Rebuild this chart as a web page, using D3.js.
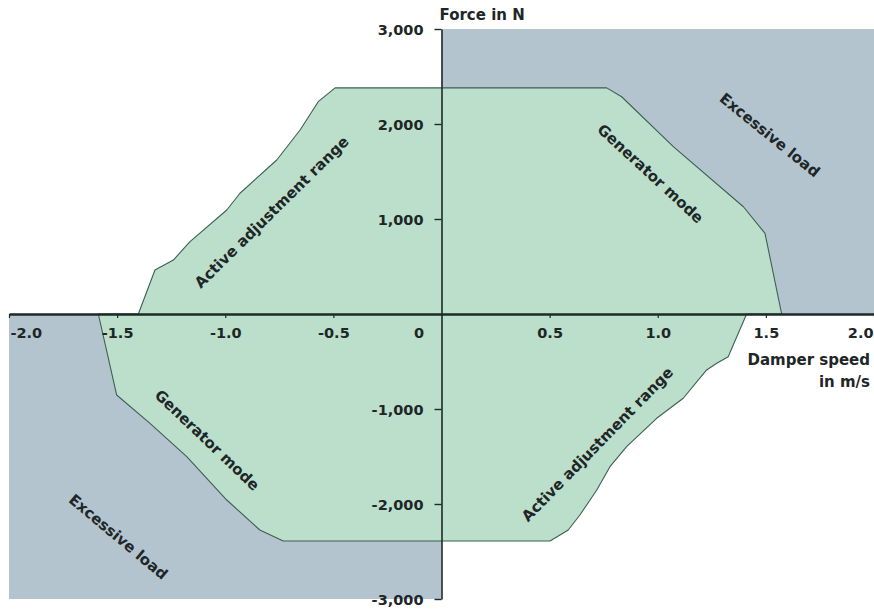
<!DOCTYPE html>
<html>
<head>
<meta charset="utf-8">
<script src="https://cdn.jsdelivr.net/npm/d3@7/dist/d3.min.js"></script>
<style>
  html, body { margin: 0; padding: 0; background: #ffffff; }
  svg { display: block; }
  text { font-family: "DejaVu Sans", sans-serif; font-weight: bold; }
</style>
</head>
<body>
<div id="chart"></div>
<script>
// ---- Data (speed in m/s, force in N) ----
const xTicks = [-2.0, -1.5, -1.0, -0.5, 0, 0.5, 1.0, 1.5, 2.0];
const yTicks = [-3000, -2000, -1000, 1000, 2000, 3000];

// Excessive-load quadrants: [speedMin, speedMax, forceMin, forceMax]
const excessiveUpper = [0, 2, 0, 3000];
const excessiveLower = [-2, 0, -3000, 0];

// Operating envelope, upper half (from left crossing, over the top, to right crossing)
const upperEdge = [
  [-1.402, 0], [-1.325, 463], [-1.240, 568], [-1.163, 761], [-0.993, 1095],
  [-0.932, 1271], [-0.762, 1621], [-0.654, 1937], [-0.570, 2235], [-0.492, 2380],
  [0.764, 2380], [0.833, 2287], [1.072, 1761], [1.396, 1129], [1.496, 849], [1.573, 0]
];
// Operating envelope, lower half (from right crossing, under the bottom, to left crossing)
const lowerEdge = [
  [1.411, 0], [1.349, -326], [1.326, -449], [1.273, -519], [1.226, -589],
  [1.118, -887], [0.995, -1098], [0.856, -1397], [0.779, -1607], [0.718, -1853],
  [0.640, -2116], [0.586, -2274], [0.502, -2390], [-0.732, -2390], [-0.840, -2274],
  [-0.993, -1958], [-1.178, -1502], [-1.348, -1151], [-1.502, -853], [-1.587, 0]
];

// Region labels: text, speed, force (centre), angle
const regionLabels = [
  { text: "Active adjustment range", s: -0.786, f: 1075, a: -44.5 },
  { text: "Generator mode", s: 0.967, f: 1480, a: 42.7 },
  { text: "Excessive load", s: 1.519, f: 1885, a: 39 },
  { text: "Generator mode", s: -1.083, f: -1326, a: 43.6 },
  { text: "Excessive load", s: -1.494, f: -2344, a: 40 },
  { text: "Active adjustment range", s: 0.720, f: -1369, a: -45.6 }
];

// ---- Layout ----
const W = 874, H = 610;
const svg = d3.select("#chart").append("svg").attr("width", W).attr("height", H);

const x = d3.scaleLinear().domain([-2, 2]).range([9, 874]);
const y = d3.scaleLinear().domain([-3000, 3000]).range([599, 29]);

const colBlue = "#b3c4ce";
const colGreen = "#bbdfca";
const colEdge = "#3d5f52";
const colAxis = "#1d2a27";
const colText = "#1e2628";

// excessive-load rectangles
[excessiveUpper, excessiveLower].forEach(r => {
  svg.append("rect")
    .attr("x", x(r[0])).attr("y", y(r[3]))
    .attr("width", x(r[1]) - x(r[0]))
    .attr("height", y(r[2]) - y(r[3]))
    .attr("fill", colBlue);
});

// green envelope
const poly = upperEdge.concat(lowerEdge);
svg.append("path")
  .attr("d", d3.line().x(d => x(d[0])).y(d => y(d[1]))(poly) + "Z")
  .attr("fill", colGreen)
  .attr("stroke", colEdge)
  .attr("stroke-width", 1.1)
  .attr("stroke-linejoin", "round");

// ---- Axes ----
const fmtLocale = d3.formatLocale({ decimal: ".", thousands: ",", grouping: [3], currency: ["", ""], minus: "-" });
const fx = fmtLocale.format(".1f");
const fy = fmtLocale.format(",");

const xAxis = svg.append("g")
  .attr("transform", `translate(0,${y(0)})`)
  .call(d3.axisBottom(x).tickValues(xTicks).tickSize(4).tickSizeOuter(0)
        .tickFormat(d => d === 0 ? "0" : fx(d)));
xAxis.select(".domain").attr("stroke", colAxis).attr("stroke-width", 2.4);
xAxis.selectAll(".tick line").attr("stroke", colAxis).attr("stroke-width", 1.2);
xAxis.selectAll(".tick text")
  .attr("fill", colText)
  .style("font-size", "14.5px")
  .attr("y", 24).attr("dy", 0)
  .each(function(d) {
    const t = d3.select(this);
    if (d === -2) t.attr("text-anchor", "start").attr("x", 1);
    if (d === 2) t.attr("text-anchor", "end").attr("x", -1);
    if (d === 0) t.attr("text-anchor", "end").attr("x", -18);
  });
xAxis.selectAll(".tick").filter(d => d === 0).select("line").remove();

const yAxis = svg.append("g")
  .attr("transform", `translate(${x(0)},0)`)
  .call(d3.axisLeft(y).tickValues(yTicks).tickSize(7).tickSizeOuter(0).tickPadding(11)
        .tickFormat(d => fy(d)));
yAxis.select(".domain").attr("stroke", colAxis).attr("stroke-width", 1.6);
yAxis.selectAll(".tick line").attr("stroke", colAxis).attr("stroke-width", 1.4);
yAxis.selectAll(".tick text")
  .attr("fill", colText)
  .style("font-size", "14.5px")
  .attr("dy", "0.36em");

// axis titles
svg.append("text")
  .attr("x", x(0) - 2).attr("y", 20)
  .attr("fill", colText).style("font-size", "15px")
  .text("Force in N");
svg.append("text")
  .attr("x", 870).attr("y", 365).attr("text-anchor", "end")
  .attr("fill", colText).style("font-size", "15px")
  .text("Damper speed");
svg.append("text")
  .attr("x", 870).attr("y", 387).attr("text-anchor", "end")
  .attr("fill", colText).style("font-size", "15px")
  .text("in m/s");

// region labels
regionLabels.forEach(l => {
  svg.append("text")
    .attr("transform", `translate(${x(l.s)},${y(l.f)}) rotate(${l.a})`)
    .attr("text-anchor", "middle")
    .attr("dy", "0.36em")
    .attr("fill", colText)
    .style("font-size", "15px")
    .text(l.text);
});
</script>
</body>
</html>
